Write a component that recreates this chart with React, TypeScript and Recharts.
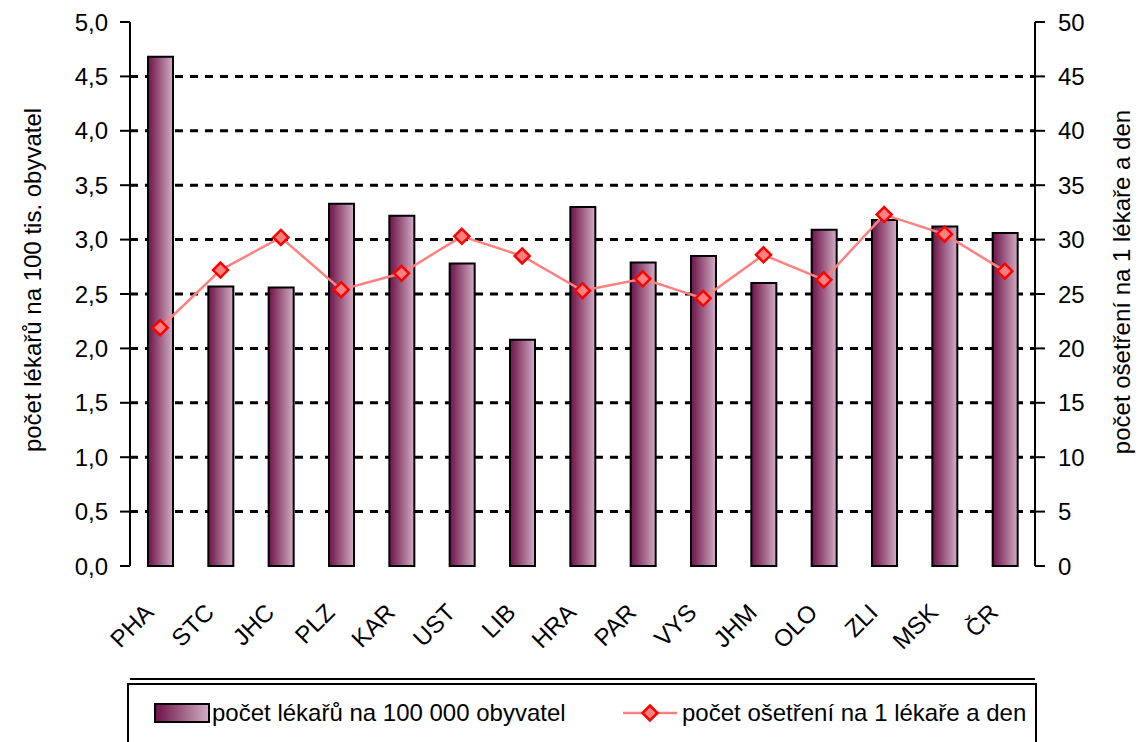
import React from 'react';
import { ComposedChart, Bar, Line, XAxis, YAxis, CartesianGrid } from 'recharts';

const regions = ['PHA', 'STC', 'JHC', 'PLZ', 'KAR', 'UST', 'LIB', 'HRA', 'PAR', 'VYS', 'JHM', 'OLO', 'ZLI', 'MSK', 'ČR'];
const doctorsPer100k = [4.68, 2.57, 2.56, 3.33, 3.22, 2.78, 2.08, 3.3, 2.79, 2.85, 2.6, 3.09, 3.18, 3.12, 3.06];
const visitsPerDoctorDay = [21.9, 27.2, 30.2, 25.4, 26.9, 30.3, 28.5, 25.3, 26.4, 24.6, 28.6, 26.3, 32.3, 30.5, 27.1];

const leftTicks = [0, 0.5, 1, 1.5, 2, 2.5, 3, 3.5, 4, 4.5, 5];
const rightTicks = [0, 5, 10, 15, 20, 25, 30, 35, 40, 45, 50];
const gridValues = [0.5, 1, 1.5, 2, 2.5, 3, 3.5, 4, 4.5];
const slotEdges = [0, 1, 2, 3, 4, 5, 6, 7, 8, 9, 10, 11, 12, 13, 14, 15];

const barLabel = 'počet lékařů na 100 000 obyvatel';
const lineLabel = 'počet ošetření na 1 lékaře a den';
const leftTitle = 'počet lékařů na 100 tis. obyvatel';
const rightTitle = 'počet ošetření na 1 lékaře a den';

const data = regions.map((name, i) => ({
  name,
  doctors: doctorsPer100k[i],
  visits: visitsPerDoctorDay[i],
}));

const NARROW = "'Liberation Sans Narrow', 'Arial Narrow', 'Liberation Sans', Arial, sans-serif";
const REGULAR = "'Liberation Sans', Arial, sans-serif";
const LINE_COLOR = '#FF8080';
const MARKER_STROKE = '#FF0000';

const Diamond = ({ cx, cy, r = 7.5 }: { cx: number; cy: number; r?: number }) => (
  <polygon
    points={`${cx},${cy - r} ${cx + r},${cy} ${cx},${cy + r} ${cx - r},${cy}`}
    fill={LINE_COLOR}
    stroke={MARKER_STROKE}
    strokeWidth={2.5}
  />
);

const RegionTick = (props: any) => {
  const { x, y, payload } = props;
  const ax = x - 5;
  const ay = y + 48;
  return (
    <text
      x={ax}
      y={ay}
      transform={`rotate(-45, ${ax}, ${ay})`}
      textAnchor="end"
      fontFamily={REGULAR}
      fontSize={24}
      fill="#000"
    >
      {payload.value}
    </text>
  );
};

const fmtLeft = (v: number) => v.toFixed(1).replace('.', ',');

export default function App() {
  return (
    <div style={{ position: 'absolute', left: 0, top: 0, width: 1141, height: 742, overflow: 'hidden', background: '#fff' }}>
      <ComposedChart
        width={1141}
        height={680}
        data={data}
        margin={{ top: 22, right: 0, bottom: 0, left: 0 }}
      >
        <defs>
          <linearGradient id="barGrad" x1="0" y1="0" x2="1" y2="0">
            <stop offset="0%" stopColor="#6A154B" />
            <stop offset="20%" stopColor="#80305F" />
            <stop offset="100%" stopColor="#D2AEC5" />
          </linearGradient>
        </defs>
        <CartesianGrid
          yAxisId="left"
          xAxisId="edges"
          horizontalValues={gridValues}
          vertical={false}
          stroke="#000"
          strokeWidth={3}
          strokeDasharray="8 7"
        />
        <XAxis
          xAxisId="edges"
          type="number"
          domain={[0, 15]}
          ticks={slotEdges}
          tick={false}
          height={1}
          tickSize={9}
          axisLine={{ stroke: '#000', strokeWidth: 2 }}
          tickLine={{ stroke: '#000', strokeWidth: 2 }}
        />
        <XAxis
          xAxisId="cat"
          dataKey="name"
          height={113}
          axisLine={false}
          tickLine={false}
          tickSize={0}
          tickMargin={0}
          interval={0}
          tick={<RegionTick />}
        />
        <YAxis
          yAxisId="left"
          width={130}
          domain={[0, 5]}
          ticks={leftTicks}
          tickFormatter={fmtLeft}
          tickSize={10}
          tickMargin={12}
          axisLine={{ stroke: '#000', strokeWidth: 2 }}
          tickLine={{ stroke: '#000', strokeWidth: 2 }}
          tick={{ fill: '#000', fontFamily: NARROW, fontSize: 24 }}
          label={{
            position: 'center',
            content: () => (
              <text
                x={32}
                y={280}
                transform="rotate(-90, 32, 280)"
                textAnchor="middle"
                dominantBaseline="central"
                fontFamily={NARROW}
                fontSize={24}
                fill="#000"
              >
                {leftTitle}
              </text>
            ),
          }}
        />
        <YAxis
          yAxisId="right"
          orientation="right"
          width={106}
          domain={[0, 50]}
          ticks={rightTicks}
          tickSize={10}
          tickMargin={13}
          axisLine={{ stroke: '#000', strokeWidth: 2 }}
          tickLine={{ stroke: '#000', strokeWidth: 2 }}
          tick={{ fill: '#000', fontFamily: NARROW, fontSize: 24 }}
          label={{
            position: 'center',
            content: () => (
              <text
                x={1121}
                y={282}
                transform="rotate(-90, 1121, 282)"
                textAnchor="middle"
                dominantBaseline="central"
                fontFamily={NARROW}
                fontSize={24}
                fill="#000"
              >
                {rightTitle}
              </text>
            ),
          }}
        />
        <Bar
          xAxisId="cat"
          yAxisId="left"
          dataKey="doctors"
          barSize={25}
          fill="url(#barGrad)"
          stroke="#000"
          strokeWidth={2}
          isAnimationActive={false}
        />
        <Line
          xAxisId="cat"
          yAxisId="right"
          dataKey="visits"
          stroke={LINE_COLOR}
          strokeWidth={2.5}
          dot={(p: any) => <Diamond key={`d-${p.index}`} cx={p.cx} cy={p.cy} />}
          activeDot={false}
          isAnimationActive={false}
        />
      </ComposedChart>
      <div
        style={{
          position: 'absolute',
          left: 127,
          top: 683,
          width: 906,
          height: 80,
          border: '2px solid #000',
          fontFamily: NARROW,
          fontSize: 24,
          color: '#000',
        }}
      >
        <div style={{ position: 'absolute', left: 24, top: 14, display: 'flex', alignItems: 'center', whiteSpace: 'nowrap' }}>
          <svg width={58} height={24} style={{ display: 'block' }}>
            <defs>
              <linearGradient id="legGrad" x1="0" y1="0" x2="1" y2="0">
                <stop offset="0%" stopColor="#6A154B" />
                <stop offset="20%" stopColor="#80305F" />
                <stop offset="100%" stopColor="#D2AEC5" />
              </linearGradient>
            </defs>
            <rect x={2} y={3} width={54} height={18} fill="url(#legGrad)" stroke="#000" strokeWidth={2} />
          </svg>
          <span style={{ marginLeft: 1 }}>{barLabel}</span>
        </div>
        <div style={{ position: 'absolute', left: 494, top: 14, display: 'flex', alignItems: 'center', whiteSpace: 'nowrap' }}>
          <svg width={56} height={24} style={{ display: 'block' }}>
            <line x1={0} y1={12} x2={54} y2={12} stroke={LINE_COLOR} strokeWidth={2.5} />
            <Diamond cx={27} cy={12} />
          </svg>
          <span style={{ marginLeft: 3 }}>{lineLabel}</span>
        </div>
      </div>
    </div>
  );
}
